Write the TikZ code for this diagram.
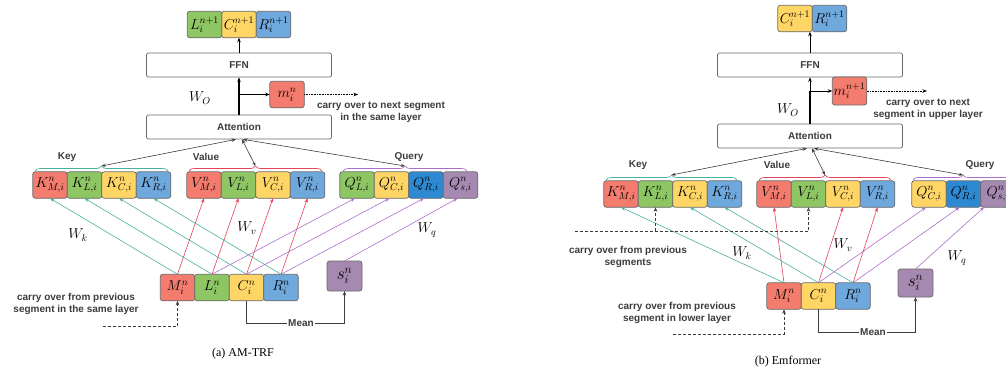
\documentclass[tikz,border=0pt]{standalone}
\usepackage{fontspec}
\setmainfont{Liberation Serif}
\newfontfamily\diagsans{Liberation Sans}
\usetikzlibrary{positioning,arrows.meta,decorations.pathreplacing}

\definecolor{cred}{RGB}{244,124,110}
\definecolor{cgreen}{RGB}{141,198,99}
\definecolor{cyellow}{RGB}{255,214,102}
\definecolor{cblue}{RGB}{111,168,220}
\definecolor{cdblue}{RGB}{45,138,210}
\definecolor{cpurple}{RGB}{166,137,176}
\definecolor{cborder}{RGB}{105,105,105}
\definecolor{ctext}{RGB}{60,60,60}
\definecolor{cteal}{RGB}{72,176,160}
\definecolor{cline}{RGB}{226,68,90}
\definecolor{cviolet}{RGB}{172,110,200}

\tikzset{
  cell/.style={draw=cborder, rounded corners=2.5pt, minimum width=34.5pt, minimum height=26.5pt,
    inner sep=0pt, outer sep=0pt, font=\Large, line width=0.7pt},
  box/.style={draw=cborder, rounded corners=2pt, fill=white, minimum width=185pt, minimum height=24pt,
    font=\diagsans\bfseries, text=ctext, line width=0.7pt},
  lbl/.style={font=\diagsans\bfseries, text=ctext, align=center},
  brc/.style={decorate, decoration={brace, amplitude=5pt}, line width=0.7pt},
  tip/.style={-{Stealth[length=4.5pt,width=3.5pt]}, line width=0.6pt},
  twotip/.style={{Stealth[length=4pt,width=3pt]}-{Stealth[length=4.5pt,width=3.5pt]}, line width=0.6pt, ctext},
  wlbl/.style={font=\Large}
}

\begin{document}
\begin{tikzpicture}[x=1pt, y=-1pt]
\useasboundingbox (0,0) rectangle (1006,376);
\clip (0,0) rectangle (1006,376);

% (a) AM-TRF
\node (tc) at (239,24.5) [cell, fill=cyellow] {$C_i^{n+1}$};
\node (tl) [cell, fill=cgreen, left=0pt of tc] {$L_i^{n+1}$};
\node (tr) [cell, fill=cblue, right=0pt of tc] {$R_i^{n+1}$};
\node (ffn) at (239,65) [box] {FFN};
\node (att) at (239,127) [box] {Attention};
\node (mem) at (287,94.5) [cell, fill=cred] {$m_i^n$};
\node (wo) at (200,98) [wlbl] {$W_O$};
\node (cnext) at (381,112) [lbl] {carry over to next segment\\in the same layer};
\coordinate (dnext) at (358,94.5);
\coordinate (wsplit) at (att.north |- mem.west);

\draw[tip] (ffn) -- (tc);
\draw[tip, line width=1.2pt] (att) -- (ffn);
\draw[tip] (wsplit) -- (mem);
\draw[tip, densely dotted, line width=0.8pt] (mem) -- (dnext);

\node (key) at (67,157) [lbl] {Key};
\node (val) at (206,157) [lbl] {Value};
\node (qry) at (409,157) [lbl] {Query};

\node (km) at (50,185) [cell, fill=cred] {$K_{M,i}^n$};
\node (kl) [cell, fill=cgreen, right=0pt of km] {$K_{L,i}^n$};
\node (kc) [cell, fill=cyellow, right=0pt of kl] {$K_{C,i}^n$};
\node (kr) [cell, fill=cblue, right=0pt of kc] {$K_{R,i}^n$};
\node (vm) at (204,185) [cell, fill=cred] {$V_{M,i}^n$};
\node (vl) [cell, fill=cgreen, right=0pt of vm] {$V_{L,i}^n$};
\node (vc) [cell, fill=cyellow, right=0pt of vl] {$V_{C,i}^n$};
\node (vr) [cell, fill=cblue, right=0pt of vc] {$V_{R,i}^n$};
\node (ql) at (357,185) [cell, fill=cgreen] {$Q_{L,i}^n$};
\node (qc) [cell, fill=cyellow, right=0pt of ql] {$Q_{C,i}^n$};
\node (qr) [cell, fill=cdblue, right=0pt of qc] {$Q_{R,i}^n$};
\node (qs) [cell, fill=cpurple, right=0pt of qr] {$Q_{s,i}^n$};

\draw[brc, cteal] (35,171) -- (168,171);
\draw[brc, cline] (189,171) -- (322,171);
\draw[brc, cviolet] (343,171) -- (467,171);
\coordinate (kb) at (101.5,166);
\coordinate (vb) at (255.5,166);
\coordinate (qb) at (405,166);
\draw[twotip] (kb) -- ([xshift=-3pt]att.south);
\draw[twotip] (vb) -- ([xshift=3pt]att.south);
\draw[twotip] (qb) -- ([xshift=4pt]att.south);

\node (bm) at (177.5,287.5) [cell, fill=cred] {$M_i^n$};
\node (bl) [cell, fill=cgreen, right=0pt of bm] {$L_i^n$};
\node (bc) [cell, fill=cyellow, right=0pt of bl] {$C_i^n$};
\node (br) [cell, fill=cblue, right=0pt of bc] {$R_i^n$};
\node (s) at (344.5,276) [cell, fill=cpurple, minimum width=35pt, minimum height=30pt, font=\LARGE] {$s_i^n$};

\draw[tip, cteal] (bm.north) -- (km.south);
\draw[tip, cteal] (bl.north) -- (kl.south);
\draw[tip, cteal] (bc.north) -- (kc.south);
\draw[tip, cteal] (br.north) -- (kr.south);
\draw[tip, cline] (bm.north) -- (vm.south);
\draw[tip, cline] (bl.north) -- (vl.south);
\draw[tip, cline] (bc.north) -- (vc.south);
\draw[tip, cline] (br.north) -- (vr.south);
\draw[tip, cviolet] (bl.north) -- ([xshift=-2pt]ql.south);
\draw[tip, cviolet] (bc.north) -- ([xshift=-2pt]qc.south);
\draw[tip, cviolet] (br.north) -- ([xshift=-2pt]qr.south);
\draw[tip, cviolet] (s.north) -- ([xshift=-3pt]qs.south);

\node (wk) at (78,235) [wlbl] {$W_k$};
\node (wv) at (247,228) [wlbl] {$W_v$};
\node (wq) at (427,230) [wlbl] {$W_q$};

\node (mean) at (301,323) [lbl, inner sep=1pt] {Mean};
\draw[line width=0.6pt, ctext] (bc.south) |- (mean);
\draw[tip, ctext] (mean) -| (s.south);
\node (cprev) at (76,304) [lbl] {carry over from previous\\segment in the same layer};
\coordinate (dprev) at (103,326);
\draw[tip, densely dashed, ctext] (dprev) -| (bm.south);

\node (capa) at (243,354) [font=\large] {(a) AM-TRF};

% (b) Emformer
\node (etc) at (795,18.5) [cell, fill=cyellow] {$C_i^{n+1}$};
\node (etr) [cell, fill=cblue, right=0pt of etc] {$R_i^{n+1}$};
\node (effn) at (810,65) [box] {FFN};
\node (eatt) at (810,136) [box] {Attention};
\node (emem) at (849.5,91) [cell, fill=cred, minimum height=28pt] {$m_i^{n+1}$};
\node (ewo) at (788,110) [wlbl] {$W_O$};
\node (enext) at (928,109) [lbl] {carry over to next\\segment in upper layer};
\coordinate (ednext) at (927,91);
\coordinate (esplit) at (eatt.north |- emem.west);

\draw[tip] (effn) -- (effn.north |- etc.south);
\draw[line width=1.2pt] (eatt) -- (esplit);
\draw[tip] (esplit) -- (effn);
\draw[tip, line width=1pt] (esplit) -- (emem);
\draw[tip, densely dotted, line width=0.8pt] (emem) -- (ednext);

\node (ekey) at (638,165) [lbl] {Key};
\node (eval) at (777,165) [lbl] {Value};
\node (eqry) at (980,165) [lbl] {Query};

\node (ekm) at (621,194) [cell, fill=cred] {$K_{M,i}^n$};
\node (ekl) [cell, fill=cgreen, right=0pt of ekm] {$K_{L,i}^n$};
\node (ekc) [cell, fill=cyellow, right=0pt of ekl] {$K_{C,i}^n$};
\node (ekr) [cell, fill=cblue, right=0pt of ekc] {$K_{R,i}^n$};
\node (evm) at (774,194) [cell, fill=cred] {$V_{M,i}^n$};
\node (evl) [cell, fill=cgreen, right=0pt of evm] {$V_{L,i}^n$};
\node (evc) [cell, fill=cyellow, right=0pt of evl] {$V_{C,i}^n$};
\node (evr) [cell, fill=cblue, right=0pt of evc] {$V_{R,i}^n$};
\node (eqc) at (929,194) [cell, fill=cyellow] {$Q_{C,i}^n$};
\node (eqr) [cell, fill=cdblue, right=0pt of eqc] {$Q_{R,i}^n$};
\node (eqs) [cell, fill=cpurple, right=0pt of eqr] {$Q_{s,i}^n$};

\draw[brc, cteal] (606,180) -- (737,180);
\draw[brc, cline] (759,180) -- (891,180);
\draw[brc, cviolet] (913,180) -- (1013,180);
\coordinate (ekb) at (671.5,175);
\coordinate (evb) at (825,175);
\coordinate (eqb) at (963,175);
\draw[twotip] (ekb) -- ([xshift=-3pt]eatt.south);
\draw[twotip] (evb) -- ([xshift=2pt]eatt.south);
\draw[twotip] (eqb) -- ([xshift=4pt]eatt.south);

\node (ebm) at (784,296) [cell, fill=cred] {$M_i^n$};
\node (ebc) [cell, fill=cyellow, right=0pt of ebm] {$C_i^n$};
\node (ebr) [cell, fill=cblue, right=0pt of ebc] {$R_i^n$};
\node (es) at (915.5,283) [cell, fill=cpurple, minimum width=35pt, minimum height=28pt, font=\LARGE] {$s_i^n$};

\draw[tip, cteal] (ebm.north) -- (ekm.south);
\draw[tip, cteal] (ebc.north) -- (ekc.south);
\draw[tip, cteal] (ebr.north) -- (ekr.south);
\draw[tip, cline] (ebm.north) -- (evm.south);
\draw[tip, cline] (ebc.north) -- (evc.south);
\draw[tip, cline] (ebr.north) -- (evr.south);
\draw[tip, cviolet] (ebc.north) -- ([xshift=-3pt]eqc.south);
\draw[tip, cviolet] (ebr.north) -- ([xshift=-4pt]eqr.south);
\draw[tip, cviolet] (es.north) -- ([xshift=-14pt]eqs.south);

\node (ewk) at (742,253) [wlbl] {$W_k$};
\node (ewv) at (843,245) [wlbl] {$W_v$};
\node (ewq) at (957,258) [wlbl] {$W_q$};

\node (eseg) at (628,257) [lbl] {carry over from previous\\segments};
\coordinate (edseg) at (575,231);
\draw[tip, densely dashed, ctext] (edseg) -| (evl.south);
\draw[tip, densely dashed, ctext] (ekl.south |- edseg) -- (ekl.south);

\node (emean) at (873,332) [lbl, inner sep=1pt] {Mean};
\draw[line width=0.6pt, ctext] (ebc.south) |- (emean);
\draw[tip, ctext] (emean) -| (es.south);
\node (eprev) at (677,313) [lbl] {carry over from previous\\segment in lower layer};
\coordinate (edprev) at (673,334);
\draw[tip, densely dashed, ctext] (edprev) -| (ebm.south);

\node (capb) at (788,362) [font=\large] {(b) Emformer};
\end{tikzpicture}
\end{document}
